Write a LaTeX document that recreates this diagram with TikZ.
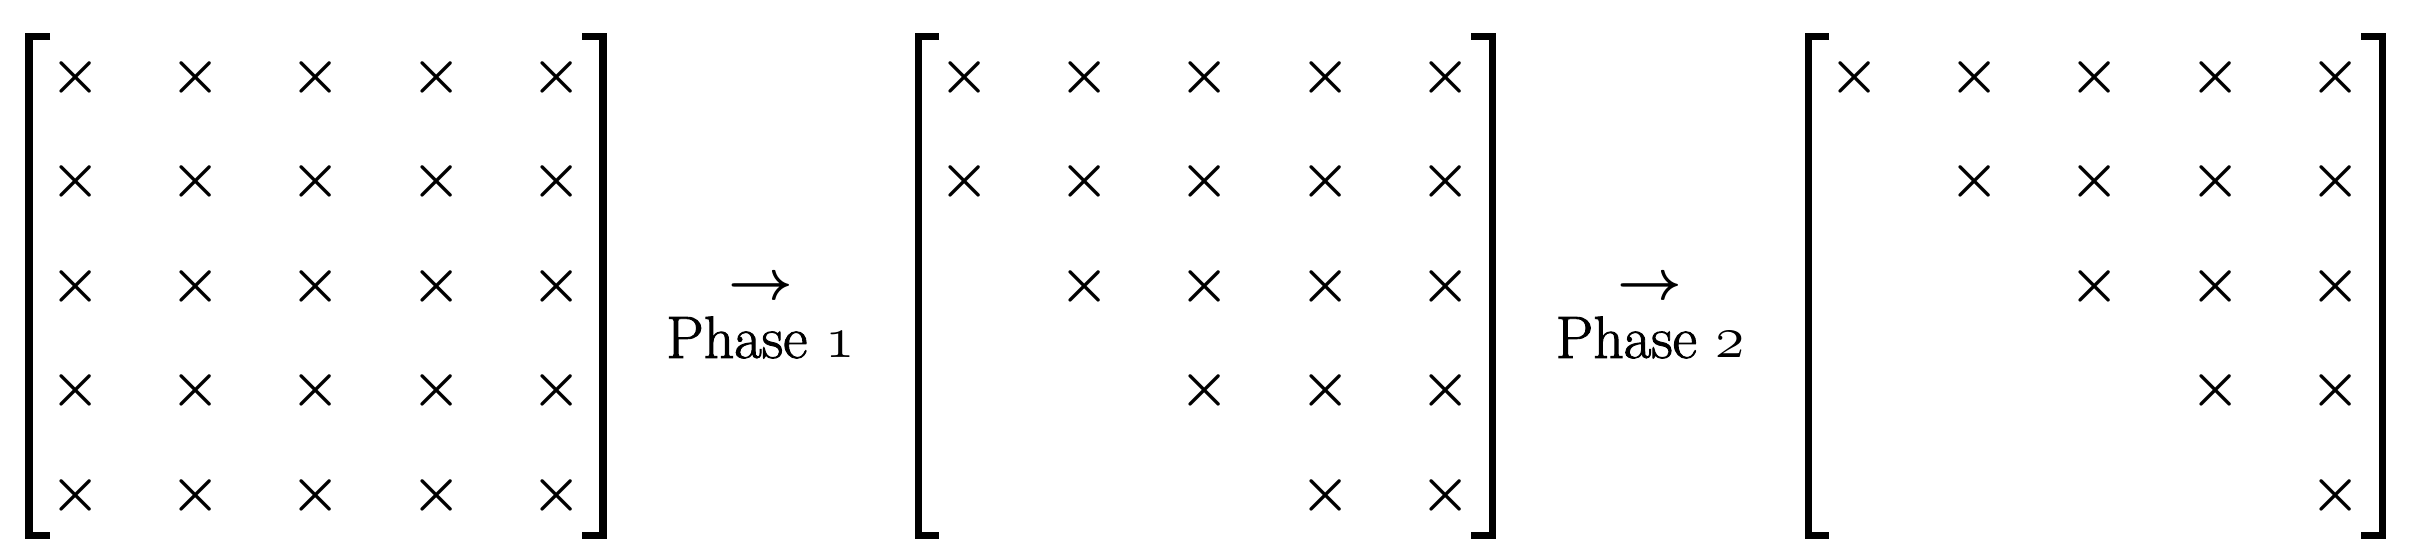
\documentclass[tikz,border=0pt]{standalone}
\usepackage{fix-cm}
\usepackage{amsmath, amsfonts, amssymb}
\usepackage{fontspec}
\newfontfamily\phasefont{Latin Modern Roman}[FakeBold=1.5]
\usetikzlibrary{positioning}

\begin{document}
\begin{tikzpicture}[
		entry/.style={inner sep=0pt, font=\fontsize{16}{19}\selectfont\boldmath},
		phase/.style={inner sep=0pt, font=\fontsize{17}{20}\selectfont\phasefont},
		brack/.style={line width=2pt, line join=miter}]
	\useasboundingbox (0,-2.72) rectangle (24.14,2.86);
	\coordinate (M1) at (3.16,0);
	\coordinate (M2) at (12.05,0);
	\coordinate (M3) at (20.95,0);
	% brackets
	\foreach \m in {M1,M2,M3}{
		\draw[brack] ([shift={(-2.66,2.495)}]\m) -- ++(-0.21,0) -- ++(0,-4.99) -- ++(0.21,0);
		\draw[brack] ([shift={(2.66,2.495)}]\m) -- ++(0.21,0) -- ++(0,-4.99) -- ++(-0.21,0);
	}
	% full matrix
	\foreach \r in {1,...,5}
		\foreach \c in {1,...,5}
			\node[entry] (A-\r-\c) at ({3.16+(\c-3)*1.2025},{(3-\r)*1.045}) {$\times$};
	% after phase 1
	\foreach \r/\s in {1/1,2/1,3/2,4/3,5/4}
		\foreach \c in {\s,...,5}
			\node[entry] (B-\r-\c) at ({12.05+(\c-3)*1.2025},{(3-\r)*1.045}) {$\times$};
	% after phase 2
	\foreach \r in {1,...,5}
		\foreach \c in {\r,...,5}
			\node[entry] (C-\r-\c) at ({20.95+(\c-3)*1.2025},{(3-\r)*1.045}) {$\times$};
	\node[entry] (T1) at (7.605,-0.03) {$\rightarrow$};
	\node[phase, anchor=base] (P1) at (7.605,-0.72) {Phase \legacyoldstylenums{1}};
	\node[entry] (T2) at (16.5,-0.03) {$\rightarrow$};
	\node[phase, anchor=base] (P2) at (16.5,-0.72) {Phase \legacyoldstylenums{2}};
\end{tikzpicture}
\end{document}
